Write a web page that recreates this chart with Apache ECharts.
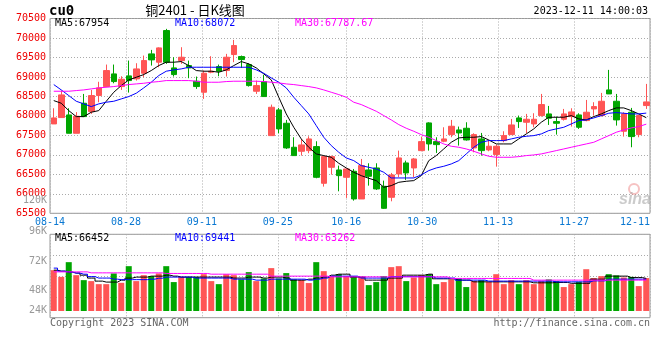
<!DOCTYPE html>
<html><head><meta charset="utf-8">
<script src="https://cdn.jsdelivr.net/npm/echarts@6/dist/echarts.min.js"></script>
<style>html,body{margin:0;padding:0;background:#fff}#c{width:660px;height:360px}</style>
</head><body><div id="c"></div>
<script>
// ---------- data ----------
const dates = ['08-14','08-15','08-16','08-17','08-18','08-21','08-22','08-23','08-24','08-25',
'08-28','08-29','08-30','08-31','09-01','09-04','09-05','09-06','09-07','09-08',
'09-11','09-12','09-13','09-14','09-15','09-18','09-19','09-20','09-21','09-22',
'09-25','09-26','09-27','09-28','10-09','10-10','10-11','10-12','10-13','10-16',
'10-17','10-18','10-19','10-20','10-23','10-24','10-25','10-26','10-27','10-30',
'10-31','11-01','11-02','11-03','11-06','11-07','11-08','11-09','11-10','11-13',
'11-14','11-15','11-16','11-17','11-20','11-21','11-22','11-23','11-24','11-27',
'11-28','11-29','11-30','12-01','12-04','12-05','12-06','12-07','12-08','12-11'];
const open = [67794,67957,68025,67554,68325,68111,68522,68753,69078,68753,
69027,68950,69095,69592,69378,70191,69232,69420,69292,68890,
68607,69121,69266,69164,69575,69523,69318,68633,68881,67494,
68154,67811,67195,67092,67109,67212,66270,66681,66613,66424,
66579,65868,66613,66664,66193,65911,66510,66793,66664,67109,
67820,67340,67349,67520,67640,67683,67178,67409,67126,67007,
67366,67520,67948,67837,67794,68008,68051,67854,67914,67982,
68025,67880,68179,68008,68667,68376,67606,68094,67520,68265];
const close = [67948,68539,67554,67991,67982,68522,68719,69164,68881,68941,
68907,69206,69420,69438,69746,69378,69061,69506,69232,68753,
69095,69147,69147,69506,69806,69446,68778,68778,68496,68222,
67666,67178,66981,67255,67409,66424,66955,66955,66467,66638,
65868,66724,66450,66125,65628,66484,66921,66536,66895,67340,
67280,67263,67409,67734,67563,67383,67520,67109,67221,67221,
67494,67768,67854,67914,67914,68291,67940,67811,68051,68102,
67708,68094,68239,68376,68564,67897,68051,67469,68008,68359];
const low = [67794,67957,67554,67554,67982,68051,68351,68736,68838,68667,
68599,68907,68992,69292,69249,69335,69010,69335,68967,68693,
68436,69095,69018,69010,69378,69232,68753,68564,68496,67494,
67554,67152,66981,66981,67041,66399,66185,66493,66065,65894,
65825,65868,66210,66099,65611,65808,66424,66356,66424,67092,
67109,67049,67323,67452,67238,67366,67066,66981,67092,66698,
67323,67520,67691,67554,67708,67982,67768,67520,67880,67726,
67666,67863,68008,67982,68564,67751,67469,67195,67452,68179];
const high = [68196,68650,68196,68097,68564,68667,68876,69318,69318,69018,
69420,69352,69549,69694,69760,70234,69506,69763,69420,69010,
69164,69532,69318,69592,69951,69549,69352,68907,69052,68291,
68205,67897,67452,67409,67477,67349,66960,66981,66724,66650,
66638,66895,66784,66784,66339,66536,67109,66852,66921,67469,
67837,67452,67708,67897,67726,67837,67554,67563,67383,67263,
67606,67922,68008,68051,68068,68564,68256,67982,68179,68196,
68068,68410,68351,68590,69181,68564,68094,68205,68025,68821];
const ma5 = [68393,68325,68136,67982,67982,68094,68136,68376,68607,68778,
68924,68992,69061,69164,69292,69378,69378,69395,69292,69164,
69147,69147,69121,69181,69292,69395,69335,69232,69078,68924,
68479,68051,67708,67409,67195,67024,66981,66938,66784,66664,
66553,66467,66399,66339,66168,66210,66296,66322,66339,66467,
66852,66981,67152,67323,67435,67452,67452,67469,67383,67280,
67280,67280,67409,67537,67666,67837,67965,67965,67965,68008,
67922,67897,67982,68051,68136,68205,68205,68136,68051,67954];
const ma10 = [68804,68667,68522,68376,68308,68239,68308,68351,68376,68436,
68496,68582,68719,68864,69035,69147,69181,69206,69249,69249,
69249,69249,69249,69249,69249,69249,69249,69181,69095,68975,
68864,68719,68479,68265,68051,67751,67452,67238,67066,66921,
66852,66724,66681,66638,66553,66407,66407,66407,66407,66484,
66596,66664,66707,66767,66852,67024,67195,67323,67366,67366,
67366,67409,67452,67477,67494,67537,67623,67666,67708,67794,
67880,67897,67948,68008,68068,68085,68068,68051,68051,68072];
const ma30 = [68633,68633,68633,68650,68667,68693,68719,68736,68753,68778,
68804,68821,68838,68864,68881,68907,68907,68907,68907,68890,
68864,68864,68864,68881,68890,68890,68890,68890,68881,68864,
68847,68821,68804,68778,68753,68719,68667,68607,68547,68479,
68351,68291,68205,68119,68008,67897,67777,67683,67606,67520,
67452,67366,67280,67221,67195,67152,67092,67024,66964,66938,
66938,66938,66955,66981,66998,67024,67066,67109,67152,67195,
67238,67280,67323,67409,67494,67580,67640,67691,67726,67788];
const volume = [64600,59100,71200,60500,56400,55600,53100,53100,61900,54200,
67900,55600,60500,59700,61900,67900,54800,59100,59100,59100,
61300,55600,53100,61300,60500,57000,63000,55600,57800,66300,
57800,62200,57000,56400,54000,71200,63800,59700,61300,59700,
59700,59100,52300,54800,59700,67100,67900,55600,58600,60500,
61300,53100,54800,57000,57800,50700,55600,56400,55000,61300,
53100,56400,53100,56400,53100,55600,57000,55600,50700,53100,
55000,65400,58100,59700,61300,60300,58600,59100,51500,58100];
const volMa5 = [64600,63800,63000,62200,60500,58100,55600,54800,54800,56400,
58100,58900,58900,59700,59700,60500,59700,58900,58900,58900,
58900,58900,58900,58900,58100,58100,58900,58900,58100,58900,
58900,58100,56400,56400,57200,58100,58900,60500,61300,61300,
58900,58900,56400,56400,56400,58100,58100,60500,60500,60500,
61300,57500,57500,57500,56400,56400,55000,55000,55000,55000,
55000,55000,55000,55000,54200,54200,54200,54500,54500,53800,
53800,53800,57200,57200,59700,59700,59700,58500,58500,57800];
const volMa10 = [66300,63800,63000,62200,61300,59300,58100,58100,57200,56800,
56800,56800,56800,57200,58000,58900,58900,58900,58900,58100,
58100,58100,58100,58100,57200,57200,57200,56400,56400,57200,
57200,57200,57200,57200,56400,57200,58100,59700,59700,59700,
59700,58100,58100,58100,58100,59300,59300,59300,59300,59300,
59300,58100,58100,58100,56400,56400,56400,56400,55600,55600,
55600,55600,55600,55600,55600,55600,55600,55000,55000,55000,
55000,55000,55800,55800,57200,57200,57200,57200,57200,57200];
const volMa30 = [63200,63200,63200,63200,63200,62400,62400,62400,62400,62400,
62400,62400,62400,62400,62400,61900,61900,61900,61900,61900,
61900,61300,61300,61300,61300,61300,61300,61300,61300,59700,
59700,59700,59700,59700,59700,59700,59700,59100,59100,59100,
59100,59100,59100,59100,59100,59100,59100,59100,59100,59100,
59100,59100,59100,57800,57800,57800,57800,57800,57800,57800,
57800,57800,57800,57800,56400,56400,56400,56400,56400,56400,
56400,56400,56400,56400,56400,56400,56400,56400,56400,56400];
const xTickLabels = ['08-14','08-28','09-11','09-25','10-16','10-30','11-13','11-27','12-11'];
const priceMin = 65500, priceMax = 70500, priceStep = 500;
const volMin = 31000, volMax = 94130;
const volTickLabels = ['120K','96K','72K','48K','24K'];
const priceLegend = ['MA5:67954','MA10:68072','MA30:67787.67'];
const volLegend = ['MA5:66452','MA10:69441','MA30:63262'];
const titleText = '铜2401 - 日K线图';
const codeText = 'cu0';
const timeText = '2023-12-11 14:00:03';

// ---------- chart ----------
const UP = '#ff5555', DOWN = '#00a600';
const MONO = "'DejaVu Sans Mono', monospace";
const tickIdx = xTickLabels.map(d => dates.indexOf(d));
const kData = dates.map((d, i) => [open[i], close[i], low[i], high[i]]);
const volData = volume.map((v, i) => ({ value: v, itemStyle: { color: close[i] >= open[i] ? UP : DOWN } }));
const dotted = { color: '#aaaaaa', width: 1, type: [1, 2] };
const legendColors = ['#000000', '#0000ff', '#ff00ff'];
const legendX = [55, 175, 295];

function txt(x, y, text, fill, font, align) {
  return { type: 'text', x: x, y: y, z: 100, silent: true,
    style: { text: text, fill: fill, font: font, textAlign: align || 'left', textVerticalAlign: 'middle' } };
}
const graphics = [];
graphics.push(txt(49, 11, codeText, '#000', 'bold 14px ' + MONO));
graphics.push(txt(195, 10, titleText, '#000', "13px 'Noto Sans CJK SC', sans-serif", 'center'));
graphics.push(txt(648, 11.5, timeText, '#000', '10px ' + MONO, 'right'));
priceLegend.forEach((t, k) => graphics.push(txt(legendX[k], 23.5, t, legendColors[k], '10px ' + MONO)));
volLegend.forEach((t, k) => graphics.push(txt(legendX[k], 238.5, t, legendColors[k], '10px ' + MONO)));
const volLabelY = [200, 231, 261, 290, 310];
volTickLabels.forEach((t, k) => graphics.push(txt(47, volLabelY[k], t, '#999999', '10px ' + MONO, 'right')));
graphics.push(txt(50, 323.5, 'Copyright 2023 SINA.COM', '#666666', '10px ' + MONO));
graphics.push(txt(650, 323.5, 'http://finance.sina.com.cn', '#666666', '10px ' + MONO, 'right'));
graphics.push({ type: 'circle', z: 5, silent: true, shape: { cx: 634, cy: 189, r: 5 },
  style: { fill: 'none', stroke: 'rgba(235,120,120,0.45)', lineWidth: 2 } });
graphics.push(txt(619, 200, 'sina', 'rgba(160,160,160,0.55)', 'italic bold 16px Arial, sans-serif'));

const chart = echarts.init(document.getElementById('c'), null, { renderer: 'canvas' });
chart.setOption({
  animation: false,
  backgroundColor: '#ffffff',
  grid: [
    { left: 50, top: 18.5, width: 600, height: 194.8, show: true, borderColor: '#999', borderWidth: 1, outerBoundsMode: 'none' },
    { left: 50, top: 234.3, width: 600, height: 76.7, show: false, outerBoundsMode: 'none' },
    { left: 50, top: 234.3, width: 600, height: 83.4, show: true, borderColor: '#999', borderWidth: 1, outerBoundsMode: 'none' }
  ],
  xAxis: [
    { type: 'category', gridIndex: 0, data: dates, boundaryGap: true, show: false },
    { type: 'category', gridIndex: 0, data: dates, boundaryGap: false, position: 'bottom',
      axisLine: { show: false }, axisTick: { show: false },
      axisLabel: { interval: (i) => tickIdx.includes(i), color: '#0a78d2', fontSize: 10, fontFamily: MONO, margin: 4,
        showMinLabel: true, showMaxLabel: true, alignMinLabel: 'center', alignMaxLabel: 'right' },
      splitLine: { show: true, interval: (i) => tickIdx.includes(i), lineStyle: dotted } },
    { type: 'category', gridIndex: 1, data: dates, boundaryGap: true, show: false },
    { type: 'category', gridIndex: 2, data: dates, boundaryGap: false,
      axisLine: { show: false }, axisTick: { show: false }, axisLabel: { show: false },
      splitLine: { show: true, interval: (i) => tickIdx.includes(i), lineStyle: dotted } }
  ],
  yAxis: [
    { type: 'value', gridIndex: 0, min: priceMin, max: priceMax, interval: priceStep,
      axisLine: { show: false }, axisTick: { show: false },
      axisLabel: { color: '#ee0000', fontSize: 10, fontFamily: MONO, margin: 4, padding: [0, 0, 4, 0],
        formatter: (v) => String(v) },
      splitLine: { show: true, lineStyle: dotted } },
    { type: 'value', gridIndex: 1, min: volMin, max: volMax, show: false, splitLine: { show: false } },
    { type: 'value', gridIndex: 2, min: 0, max: 4, interval: 1,
      axisLine: { show: false }, axisTick: { show: false }, axisLabel: { show: false },
      splitLine: { show: true, lineStyle: dotted } }
  ],
  series: [
    { type: 'candlestick', xAxisIndex: 0, yAxisIndex: 0, data: kData, barWidth: 6, z: 2,
      itemStyle: { color: UP, color0: DOWN, borderColor: UP, borderColor0: DOWN, borderWidth: 1 } },
    { type: 'line', xAxisIndex: 0, yAxisIndex: 0, data: ma5, showSymbol: false, z: 3, lineStyle: { color: '#000', width: 1 } },
    { type: 'line', xAxisIndex: 0, yAxisIndex: 0, data: ma10, showSymbol: false, z: 3, lineStyle: { color: '#0000ff', width: 1 } },
    { type: 'line', xAxisIndex: 0, yAxisIndex: 0, data: ma30, showSymbol: false, z: 3, lineStyle: { color: '#ff00ff', width: 1 } },
    { type: 'bar', xAxisIndex: 2, yAxisIndex: 1, data: volData, barWidth: 6, z: 2 },
    { type: 'line', xAxisIndex: 2, yAxisIndex: 1, data: volMa5, step: 'middle', showSymbol: false, z: 3, lineStyle: { color: '#000', width: 1 } },
    { type: 'line', xAxisIndex: 2, yAxisIndex: 1, data: volMa10, step: 'middle', showSymbol: false, z: 3, lineStyle: { color: '#0000ff', width: 1 } },
    { type: 'line', xAxisIndex: 2, yAxisIndex: 1, data: volMa30, step: 'middle', showSymbol: false, z: 3, lineStyle: { color: '#ff00ff', width: 1 } }
  ],
  graphic: graphics
});
</script>
</body></html>
